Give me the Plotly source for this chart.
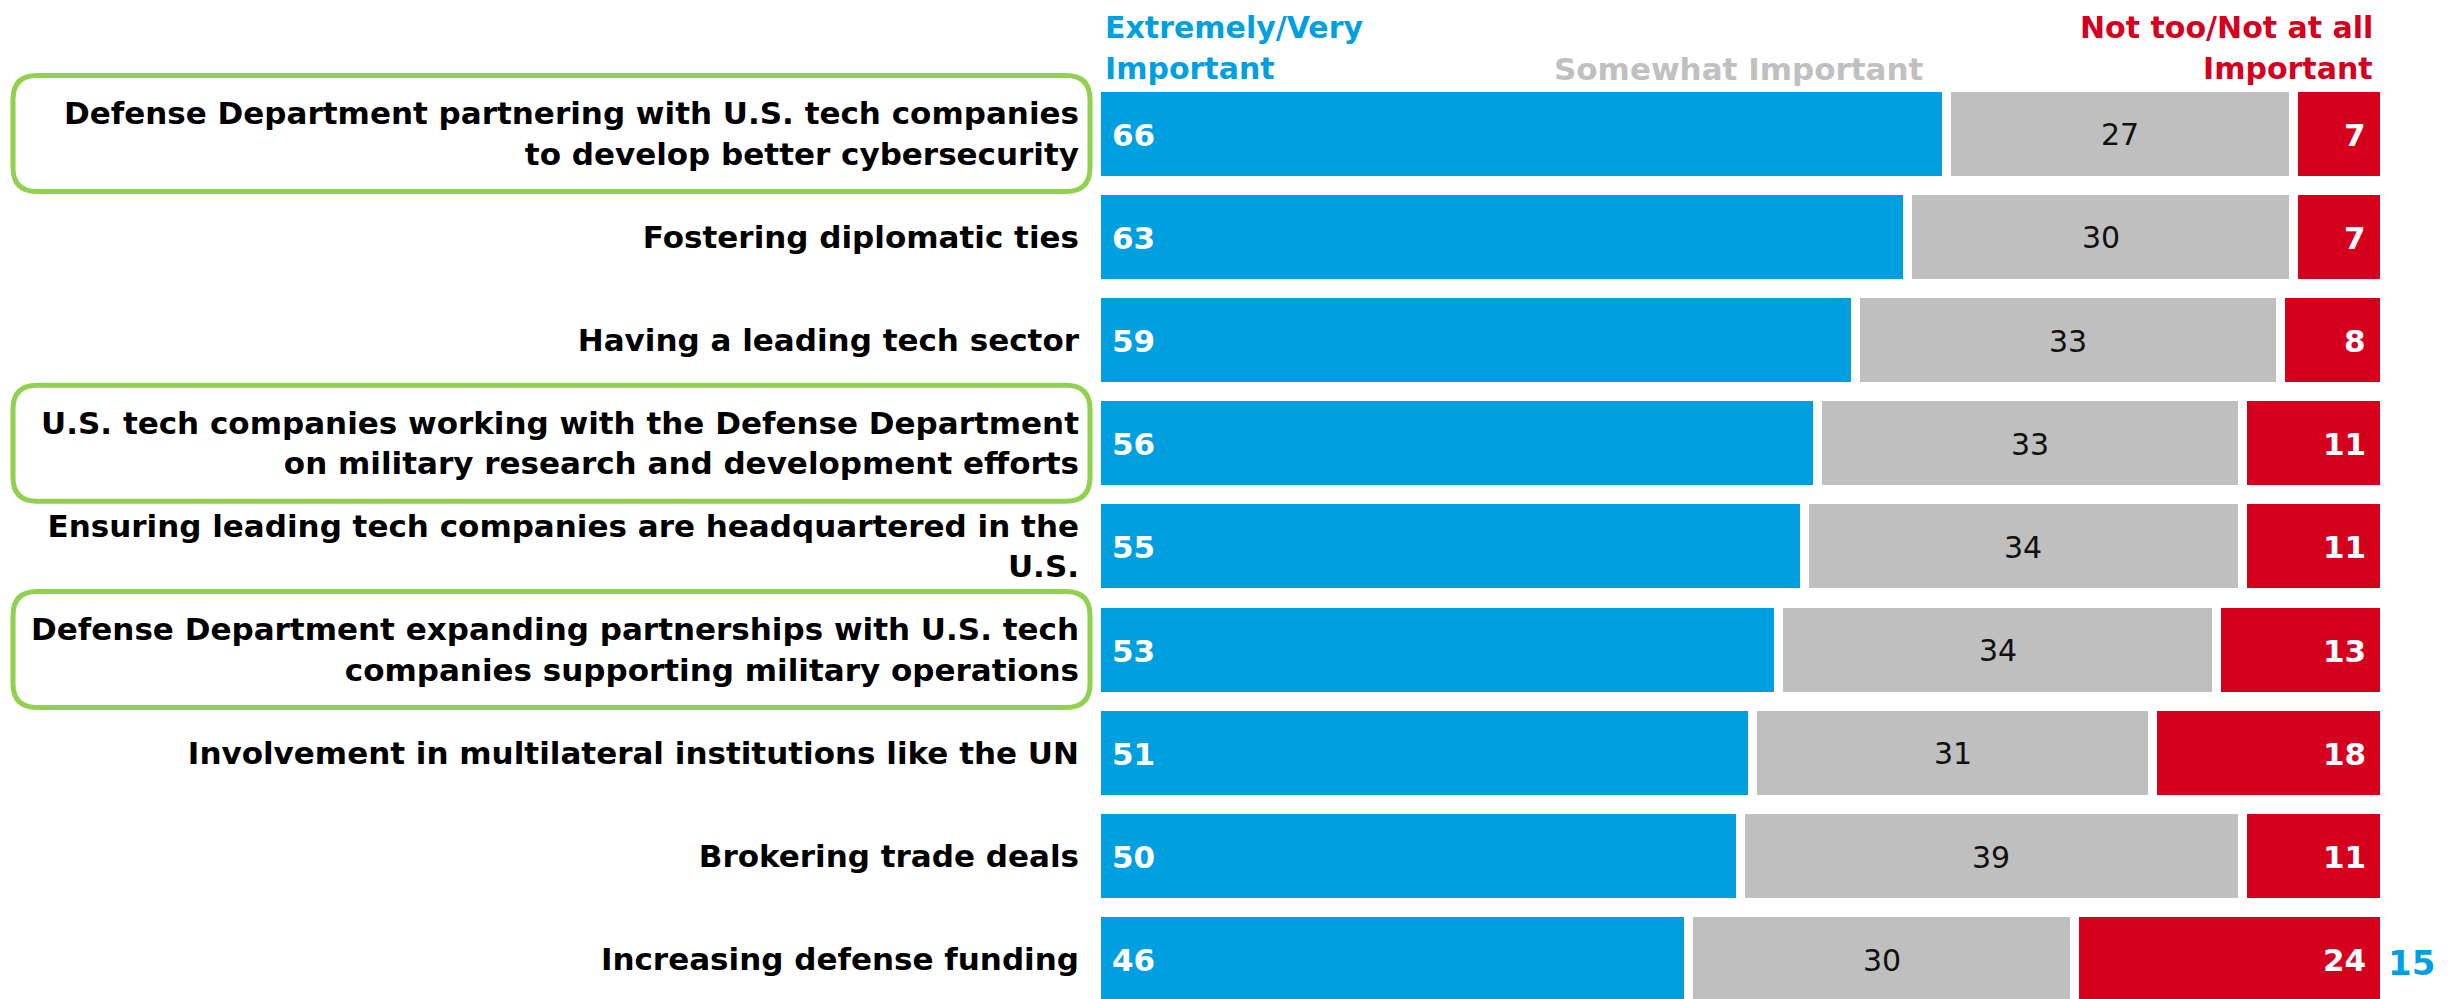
import plotly.graph_objects as go

categories = [
    "Defense Department partnering with U.S. tech companies<br>to develop better cybersecurity",
    "Fostering diplomatic ties",
    "Having a leading tech sector",
    "U.S. tech companies working with the Defense Department<br>on military research and development efforts",
    "Ensuring leading tech companies are headquartered in the<br>U.S.",
    "Defense Department expanding partnerships with U.S. tech<br>companies supporting military operations",
    "Involvement in multilateral institutions like the UN",
    "Brokering trade deals",
    "Increasing defense funding",
]
very_important = [66, 63, 59, 56, 55, 53, 51, 50, 46]
somewhat_important = [27, 30, 33, 33, 34, 34, 31, 39, 30]
not_important = [7, 7, 8, 11, 11, 13, 18, 11, 24]
highlighted = [0, 3, 5]
series_names = ["Extremely/Very<br>Important", "Somewhat Important", "Not too/Not at all<br>Important"]
page_number = "15"

BLUE = "#009FDF"
GREY = "#BFBFBF"
RED = "#D5001E"
GREEN = "#92D050"
FONT = "DejaVu Sans"

W, H = 2461, 999
ML, MR, MT, MB = 1096, 77, 82, 0
PW, PH = W - ML - MR, H - MT - MB
YMAX = (H - MT) / 103.2 - 0.5


def px_to_paper_x(px):
    return (px - ML) / PW


def px_to_paper_y(py):
    return (H - MB - py) / PH


fig = go.Figure()
for vals, col, name in zip([very_important, somewhat_important, not_important],
                           [BLUE, GREY, RED], series_names):
    fig.add_trace(go.Bar(
        y=categories, x=vals, orientation="h", name=name,
        marker=dict(color=col, line=dict(color="white", width=9)),
        hoverinfo="skip", showlegend=False,
    ))

annotations = []
for i, cat in enumerate(categories):
    v, s, n = very_important[i], somewhat_important[i], not_important[i]
    annotations.append(dict(x=0, y=cat, xref="x", yref="y", text=f"<b>{v}</b>",
                            xanchor="left", xshift=14, yshift=-1, showarrow=False,
                            font=dict(family=FONT, size=31, color="white")))
    annotations.append(dict(x=v + s / 2, y=cat, xref="x", yref="y", text=f"{s}",
                            xanchor="center", yshift=-1, showarrow=False,
                            font=dict(family=FONT, size=30, color="#111111")))
    annotations.append(dict(x=v + s + n, y=cat, xref="x", yref="y", text=f"<b>{n}</b>",
                            xanchor="right", xshift=-16, yshift=-1, showarrow=False,
                            font=dict(family=FONT, size=31, color="white")))

# header labels (one annotation per line)
blue_lines = series_names[0].split("<br>")
red_lines = series_names[2].split("<br>")
for line, ypx in zip(blue_lines, [27, 69]):
    annotations.append(dict(x=px_to_paper_x(1103), y=px_to_paper_y(ypx), xref="paper", yref="paper",
                            text="<b>" + line + "</b>", xanchor="left", yanchor="middle",
                            showarrow=False, font=dict(family=FONT, size=30, color=BLUE)))
for line, ypx in zip(red_lines, [27, 69]):
    annotations.append(dict(x=px_to_paper_x(2375), y=px_to_paper_y(ypx), xref="paper", yref="paper",
                            text="<b>" + line + "</b>", xanchor="right", yanchor="middle",
                            showarrow=False, font=dict(family=FONT, size=30, color=RED)))
annotations.append(dict(x=px_to_paper_x(1739), y=px_to_paper_y(69), xref="paper", yref="paper",
                        text="<b>" + series_names[1] + "</b>", xanchor="center", yanchor="middle",
                        showarrow=False,
                        font=dict(family=FONT, size=31, color="#C0C0C0")))
annotations.append(dict(x=px_to_paper_x(2386), y=px_to_paper_y(963), xref="paper", yref="paper",
                        text="<b>" + page_number + "</b>", xanchor="left", yanchor="middle",
                        showarrow=False,
                        font=dict(family=FONT, size=34, color=BLUE)))

# green rounded boxes around highlighted rows
shapes = []
for i in highlighted:
    cy = MT + (i + 0.5) * 103.2
    x0, x1 = px_to_paper_x(13), px_to_paper_x(1090)
    y0, y1 = px_to_paper_y(cy + 58), px_to_paper_y(cy - 58)
    rx, ry = 24 / PW, 24 / PH
    path = (f"M{x0 + rx},{y1} L{x1 - rx},{y1} Q{x1},{y1} {x1},{y1 - ry} "
            f"L{x1},{y0 + ry} Q{x1},{y0} {x1 - rx},{y0} "
            f"L{x0 + rx},{y0} Q{x0},{y0} {x0},{y0 + ry} "
            f"L{x0},{y1 - ry} Q{x0},{y1} {x0 + rx},{y1} Z")
    shapes.append(dict(type="path", path=path, xref="paper", yref="paper",
                       line=dict(color=GREEN, width=5), layer="above"))

fig.update_layout(
    barmode="stack", bargap=0.099,
    width=W, height=H,
    margin=dict(l=ML, r=MR, t=MT, b=MB, pad=0),
    paper_bgcolor="white", plot_bgcolor="white",
    xaxis=dict(range=[0, 100], visible=False, fixedrange=True),
    yaxis=dict(range=[YMAX, -0.5], type="category", showgrid=False, zeroline=False,
               showline=False, ticks="", ticklabelstandoff=16,
               tickfont=dict(family=FONT, size=31, color="black", weight="bold")),
    annotations=annotations, shapes=shapes,
)

fig.write_html("out.html", post_script="document.body.style.margin='0';",
               config={"displayModeBar": False})
